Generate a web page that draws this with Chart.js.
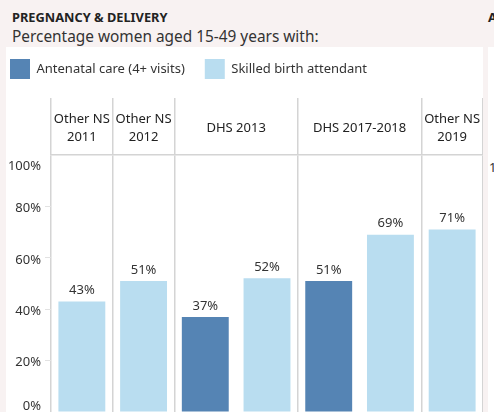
<!DOCTYPE html>
<html>
<head>
<meta charset="utf-8">
<script src="https://cdn.jsdelivr.net/npm/chart.js@4.4.0/dist/chart.umd.min.js"></script>
<style>
  html, body { margin: 0; padding: 0; width: 494px; height: 412px; overflow: hidden; background: #f8f2f2; font-family: "Noto Sans", sans-serif; }
  #panel { position: absolute; left: 6px; top: 47px; width: 477px; height: 380px; background: #fff; }
  #nextPanel { position: absolute; left: 488px; top: 47px; width: 60px; height: 380px; background: #fff; }
  .title { position: absolute; top: 10.5px; font-size: 12.8px; line-height: 13px; font-weight: bold; color: #222; white-space: nowrap; }
  #subtitle { position: absolute; left: 12px; top: 29px; font-size: 15.4px; line-height: 16px; color: #333; white-space: nowrap; }
  #nextTick { position: absolute; left: 489px; top: 158px; font-size: 13px; color: #333; }
  #wrap { position: absolute; left: -10px; top: 39px; width: 493px; height: 373px; }
</style>
</head>
<body>
<div id="panel"></div>
<div id="nextPanel"></div>
<div class="title" style="left:12px">PREGNANCY &amp; DELIVERY</div>
<div class="title" style="left:488px">A</div>
<div id="subtitle">Percentage women aged 15-49 years with:</div>
<div id="nextTick">100%</div>
<div id="wrap"><canvas id="chart" width="493" height="373"></canvas></div>
<script>
// one slot per bar
const slotLabels = ['Other NS 2011', 'Other NS 2012', 'DHS 2013', 'DHS 2013', 'DHS 2017-2018', 'DHS 2017-2018', 'Other NS 2019'];
const antenatalCare = [null, null, 37, null, 51, null, null];
const skilledBirth = [43, 51, null, 52, null, 69, 71];

// survey header row
const surveyGroups = [['Other NS', '2011'], ['Other NS', '2012'], 'DHS 2013', 'DHS 2017-2018', ['Other NS', '2019']];
const groupSlots = [1, 1, 2, 2, 1];

const yTicks = [0, 20, 40, 60, 80, 100];

const lineGrey = '#d4d4d4';
const darkBlue = '#5584b4';
const lightBlue = '#b9ddf0';

// group borders and centres in slot units
const borders = [-0.5];
const centres = [];
groupSlots.forEach(n => {
  const start = borders[borders.length - 1];
  centres.push(start + n / 2);
  borders.push(start + n);
});
const headerTicks = borders.concat(centres).sort((a, b) => a - b);

const barValueLabels = {
  id: 'barValueLabels',
  afterDatasetsDraw(chart) {
    const ctx = chart.ctx;
    ctx.save();
    ctx.font = '13px "Noto Sans"';
    ctx.fillStyle = '#333';
    ctx.textAlign = 'center';
    ctx.textBaseline = 'middle';
    chart.data.datasets.forEach((ds, i) => {
      chart.getDatasetMeta(i).data.forEach((bar, j) => {
        if (ds.data[j] == null) return;
        ctx.fillText(ds.data[j] + '%', bar.x, bar.y - 11);
      });
    });
    ctx.restore();
  }
};

const ctx = document.getElementById('chart').getContext('2d');
new Chart(ctx, {
  type: 'bar',
  data: {
    labels: slotLabels,
    datasets: [
      { label: 'Antenatal care (4+ visits)', data: antenatalCare, backgroundColor: darkBlue, borderWidth: 0 },
      { label: 'Skilled birth attendant', data: skilledBirth, backgroundColor: lightBlue, borderWidth: 0 }
    ]
  },
  options: {
    responsive: false,
    animation: false,
    devicePixelRatio: 1,
    layout: { padding: 0 },
    datasets: { bar: { grouped: false, categoryPercentage: 1, barPercentage: 0.76 } },
    plugins: {
      legend: {
        position: 'top',
        align: 'start',
        labels: {
          boxWidth: 20, boxHeight: 20, padding: 20, color: '#333',
          font: { family: 'Noto Sans', size: 13 }
        }
      },
      tooltip: { enabled: false }
    },
    scales: {
      x: { display: false },
      xTop: {
        type: 'linear', axis: 'x', position: 'top', offset: false,
        min: -0.5, max: slotLabels.length - 0.5,
        afterBuildTicks: s => { s.ticks = headerTicks.map(v => ({ value: v })); },
        afterFit: s => { s.height = 66; s.paddingLeft = 0; s.paddingRight = 0; },
        grid: {
          offset: false,
          color: c => (c.tick && borders.includes(c.tick.value)) ? lineGrey : 'rgba(0,0,0,0)',
          lineWidth: 1.5, tickLength: 57, drawOnChartArea: true, drawTicks: true
        },
        border: { display: true, color: lineGrey, width: 1.5 },
        ticks: {
          autoSkip: false, maxRotation: 0, minRotation: 0, padding: -39, crossAlign: 'center',
          color: '#222', font: { family: 'Noto Sans', size: 13, lineHeight: 1.37 },
          callback: v => {
            const k = centres.indexOf(v);
            return k >= 0 ? surveyGroups[k] : '';
          }
        }
      },
      y: {
        min: 0, max: 100,
        afterBuildTicks: s => { s.ticks = yTicks.map(v => ({ value: v })); },
        afterFit: s => { s.width = 61; s.paddingTop = 0; s.paddingBottom = 0; },
        grid: {
          drawOnChartArea: false, tickLength: 6, lineWidth: 1,
          color: c => (c.tick && (c.tick.value === 0 || c.tick.value === 100)) ? 'rgba(0,0,0,0)' : '#e2e2e2'
        },
        border: { display: false },
        ticks: {
          padding: 4, color: '#333', labelOffset: 2,
          font: c => ({ family: 'Noto Sans', size: 13, lineHeight: (c.tick && c.tick.value === 100) ? 1.38 : 1.23 }),
          callback: v => v === 0 ? [v + '%', ''] : v === 100 ? ['', v + '%'] : v + '%'
        }
      }
    }
  },
  plugins: [barValueLabels]
});
</script>
</body>
</html>
